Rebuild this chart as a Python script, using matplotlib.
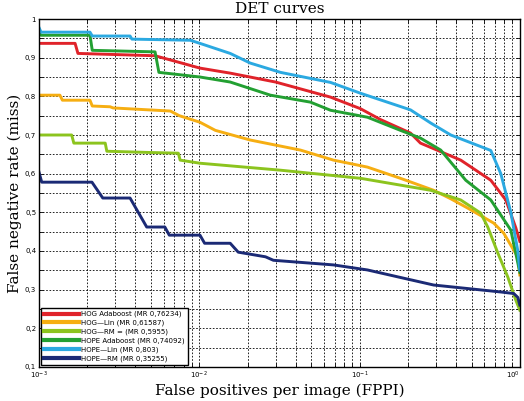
import matplotlib
matplotlib.use("Agg")
import matplotlib.pyplot as plt
from matplotlib.ticker import MultipleLocator, FixedLocator, LogLocator, NullFormatter

# series: (fppi, miss rate)
labels = ["HOG Adaboost (MR 0,76234)", "HOG\u2014Lin (MR 0,61587)", "HOG\u2014RM = (MR 0,5955)",
          "HOPE Adaboost (MR 0,74092)", "HOPE\u2014Lin (MR 0,803)", "HOPE\u2014RM (MR 0,35255)"]
colors = ["#e0232a", "#f6ae12", "#8cc41e", "#23a032", "#2ba9e1", "#1b2a75"]

hog_ada_x = [0.001, 0.00168, 0.00175, 0.0053, 0.0101, 0.0156, 0.0299, 0.0659, 0.1014, 0.135, 0.208, 0.24, 0.428, 0.659, 0.818, 0.944, 1.0]
hog_ada_y = [0.937, 0.937, 0.911, 0.905, 0.873, 0.86, 0.837, 0.798, 0.768, 0.74, 0.705, 0.679, 0.635, 0.583, 0.532, 0.46, 0.425]

hog_lin_x = [0.001, 0.00135, 0.0014, 0.00208, 0.00215, 0.00278, 0.0029, 0.0066, 0.0075, 0.0101, 0.0126, 0.0208, 0.0428, 0.0688, 0.112, 0.18, 0.29, 0.371, 0.473, 0.688, 0.794, 0.972, 1.0]
hog_lin_y = [0.803, 0.803, 0.79, 0.79, 0.775, 0.773, 0.77, 0.762, 0.75, 0.733, 0.712, 0.687, 0.661, 0.635, 0.617, 0.588, 0.557, 0.535, 0.511, 0.472, 0.446, 0.384, 0.338]

hog_rm_x = [0.001, 0.0016, 0.00165, 0.00259, 0.00265, 0.0047, 0.0074, 0.0076, 0.0101, 0.0321, 0.1014, 0.278, 0.428, 0.57, 0.631, 0.729, 0.841, 0.944, 1.0]
hog_rm_y = [0.70, 0.70, 0.679, 0.679, 0.658, 0.655, 0.653, 0.635, 0.627, 0.609, 0.588, 0.557, 0.532, 0.498, 0.462, 0.395, 0.333, 0.273, 0.247]

hope_ada_x = [0.001, 0.00103, 0.00208, 0.00215, 0.0053, 0.0056, 0.0101, 0.0156, 0.0278, 0.0494, 0.0659, 0.112, 0.18, 0.24, 0.321, 0.46, 0.659, 0.879, 1.0]
hope_ada_y = [0.965, 0.958, 0.958, 0.919, 0.915, 0.862, 0.85, 0.837, 0.803, 0.785, 0.764, 0.746, 0.712, 0.692, 0.661, 0.583, 0.532, 0.454, 0.345]

hope_lin_x = [0.001, 0.00103, 0.00208, 0.00215, 0.0037, 0.0038, 0.0088, 0.0101, 0.0156, 0.0208, 0.0321, 0.0659, 0.1014, 0.208, 0.278, 0.371, 0.659, 0.761, 0.879, 0.972, 1.0]
hope_lin_y = [0.978, 0.966, 0.966, 0.956, 0.956, 0.948, 0.945, 0.937, 0.911, 0.886, 0.862, 0.836, 0.808, 0.765, 0.731, 0.70, 0.66, 0.60, 0.50, 0.40, 0.35]

hope_rm_x = [0.001, 0.00104, 0.00214, 0.0025, 0.0037, 0.0047, 0.0061, 0.0065, 0.0101, 0.0108, 0.0156, 0.0175, 0.0259, 0.029, 0.0688, 0.112, 0.29, 0.761, 0.917, 0.972, 1.0]
hope_rm_y = [0.604, 0.578, 0.578, 0.537, 0.537, 0.462, 0.462, 0.441, 0.441, 0.42, 0.42, 0.397, 0.385, 0.376, 0.364, 0.351, 0.312, 0.294, 0.29, 0.28, 0.26]

series = [(hog_ada_x, hog_ada_y), (hog_lin_x, hog_lin_y), (hog_rm_x, hog_rm_y),
          (hope_ada_x, hope_ada_y), (hope_lin_x, hope_lin_y), (hope_rm_x, hope_rm_y)]

y_ticks = [0.1, 0.2, 0.3, 0.4, 0.5, 0.6, 0.7, 0.8, 0.9, 1.0]
y_ticklabels = ["0,1", "0,2", "0,3", "0,4", "0,5", "0,6", "0,7", "0,8", "0,9", "1"]
x_ticks = [0.001, 0.01, 0.1, 1.0]
x_ticklabels = [r"$10^{-3}$", r"$10^{-2}$", r"$10^{-1}$", r"$10^{0}$"]

fig = plt.figure(figsize=(5.24, 4.01), dpi=100)
ax = fig.add_axes([0.0744, 0.0848, 0.9176, 0.8678])

for (x, y), c, lab in zip(series, colors, labels):
    ax.plot(x, y, color=c, lw=2.1, label=lab, solid_joinstyle="round")

ax.set_xscale("log")
ax.set_xlim(0.001, 1.0)
ax.set_ylim(0.1, 1.0)
ax.set_xticks(x_ticks)
ax.set_xticklabels(x_ticklabels, fontsize=5)
ax.get_xticklabels()[-1].set_horizontalalignment("right")
ax.xaxis.set_minor_locator(LogLocator(base=10, subs=range(2, 10)))
ax.xaxis.set_minor_formatter(NullFormatter())
ax.yaxis.set_major_locator(FixedLocator(y_ticks))
ax.set_yticklabels(y_ticklabels, fontsize=5)
ax.yaxis.set_minor_locator(MultipleLocator(0.05))
ax.tick_params(which="both", direction="in", top=True, right=True, length=3, width=0.6)
ax.tick_params(axis="both", which="major", pad=2)

ax.grid(True, which="both", color="black", linestyle=(0, (2, 2)), linewidth=0.6)
for s in ax.spines.values():
    s.set_linewidth(1.0)

ax.set_title("DET curves", family="DejaVu Serif", fontsize=11, pad=4)
ax.set_xlabel("False positives per image (FPPI)", family="DejaVu Serif", fontsize=11, labelpad=2)
ax.set_ylabel("False negative rate (miss)", family="DejaVu Serif", fontsize=11, labelpad=2)

leg = ax.legend(loc="lower left", fontsize=5, frameon=True, fancybox=False, borderaxespad=0.3,
                handlelength=5, handletextpad=0.4, borderpad=0.4, labelspacing=0.35)
leg.get_frame().set_edgecolor("black")
leg.get_frame().set_linewidth(1.0)
leg.get_frame().set_alpha(1.0)
for line in leg.get_lines():
    line.set_linewidth(3.0)

fig.savefig("out.png", dpi=100)
